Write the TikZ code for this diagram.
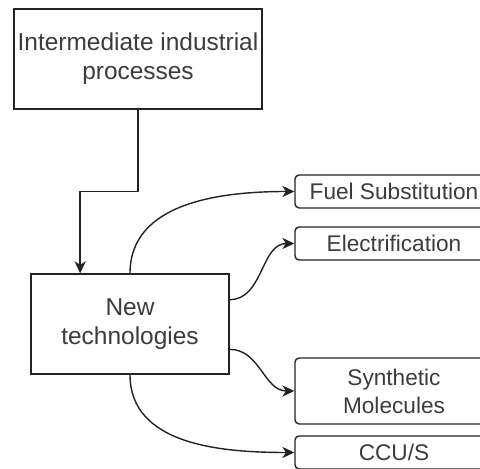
\documentclass[tikz,border=0pt]{standalone}
\usepackage{fontspec}
\setmainfont{Liberation Sans}
\usepackage{tikz}
\usetikzlibrary{positioning,arrows.meta,calc}
\usepackage{xcolor}
\definecolor{lineink}{RGB}{35,35,35}
\definecolor{textink}{RGB}{60,60,60}

\begin{document}
\begin{tikzpicture}[
  >={Stealth[length=3mm,width=2.8mm,inset=0.9mm]},
  bigbox/.style={draw=lineink,line width=1pt,fill=white,inner sep=2pt,align=center,text=textink,font=\fontsize{17.4}{20.6}\selectfont,minimum width=4.95cm,minimum height=2.5cm},
  techbox/.style={draw=lineink,line width=1pt,fill=white,rounded corners=3pt,inner sep=1pt,align=center,text=textink,font=\fontsize{16.1}{19.9}\selectfont,minimum width=4.95cm,minimum height=0.825cm},
  ar/.style={->,line width=1pt,lineink}
]
\useasboundingbox (0,0) rectangle (12,11.725);
\clip (0,0) rectangle (12,11.725);

% LEFT: source processes and new technologies
\node[bigbox,minimum width=6.2cm] (proc) at (3.45,10.25) {Intermediate industrial\\processes};
\node[bigbox] (newtech) at (3.25,3.625) {New\\technologies};

% RIGHT: technology options
\node[techbox] (fuel) at (9.85,6.9375) {Fuel Substitution};
\node[techbox] (elec) at (9.85,5.6375) {Electrification};
\node[techbox,minimum height=1.65cm] (synth) at (9.85,1.95) {Synthetic\\Molecules};
\node[techbox] (ccus) at (9.85,0.4125) {CCU/S};

% connectors
\coordinate (ntin) at ($(newtech.north west)!0.25!(newtech.north east)$);
\draw[ar] (proc.south) |- ($(proc.south)!0.5!(ntin)$) -| (ntin);
\draw[ar] (newtech.north) to[out=90,in=180] (fuel.west);
\draw[ar] ($(newtech.north east)!0.26!(newtech.south east)$) to[out=0,in=180] (elec.west);
\draw[ar] ($(newtech.north east)!0.75!(newtech.south east)$) to[out=0,in=180] (synth.west);
\draw[ar] (newtech.south) to[out=-90,in=180] (ccus.west);
\end{tikzpicture}
\end{document}
